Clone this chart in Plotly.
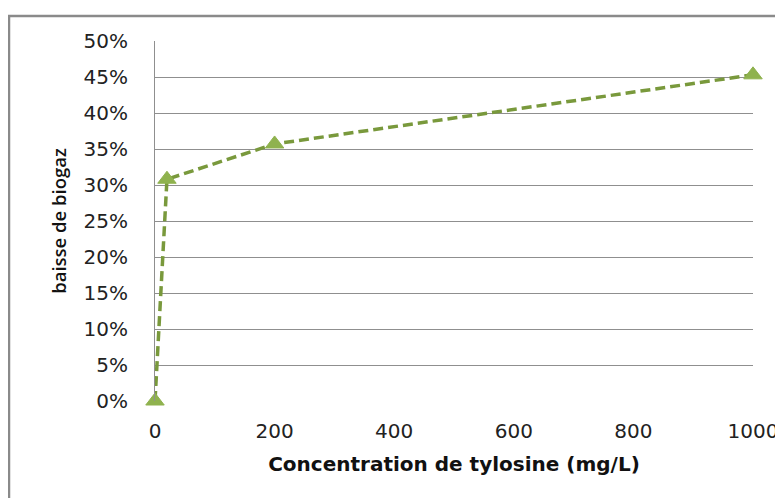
import plotly.graph_objects as go

concentration = [0, 20, 200, 1000]
baisse = [0.0, 0.308, 0.357, 0.453]
y_ticks = [0, 0.05, 0.10, 0.15, 0.20, 0.25, 0.30, 0.35, 0.40, 0.45, 0.50]
x_ticks = [0, 200, 400, 600, 800, 1000]

# page body has an 8px margin, so the figure is offset by (8, 8)
W, H = 775, 490
fig = go.Figure()
fig.add_trace(go.Scatter(
    x=concentration, y=baisse, mode="lines+markers",
    line=dict(color="#79993C", width=3.5, dash="10px,5px"),
    marker=dict(symbol="triangle-up", size=16, color="#8FB24E",
                line=dict(color="#8FB24E", width=1)),
    cliponaxis=False, showlegend=False,
))

fig.update_layout(
    width=W, height=H,
    margin=dict(l=147, r=30, t=33, b=97),
    paper_bgcolor="white", plot_bgcolor="white",
    font=dict(family="DejaVu Sans", size=20, color="#222"),
    xaxis=dict(range=[0, 1000], tickvals=x_ticks, showgrid=False, zeroline=False,
               showline=False, ticks="", ticklabelstandoff=16, automargin=False,
               title=dict(text="<b>Concentration de tylosine (mg/L)</b>",
                          font=dict(family="DejaVu Sans", size=20, color="#111"), standoff=14)),
    yaxis=dict(range=[0, 0.5], tickvals=y_ticks, tickformat=".0%", showgrid=True,
               gridcolor="#8f8f8f", gridwidth=1, zeroline=False, automargin=False,
               showline=True, linecolor="#8f8f8f", linewidth=1, ticks="",
               ticklabelstandoff=22,
               title=dict(text="baisse de biogaz",
                          font=dict(family="Open Sans", size=18.5, color="#111", weight=600),
                          standoff=12)),
)
fig.add_shape(type="rect", xref="paper", yref="paper",
              x0=-146/598, x1=1.2, y0=-0.5, y1=1 + 25/360,
              line=dict(color="#8a8a8a", width=2.5), fillcolor="rgba(0,0,0,0)", layer="below")
fig.write_html("out.html")
